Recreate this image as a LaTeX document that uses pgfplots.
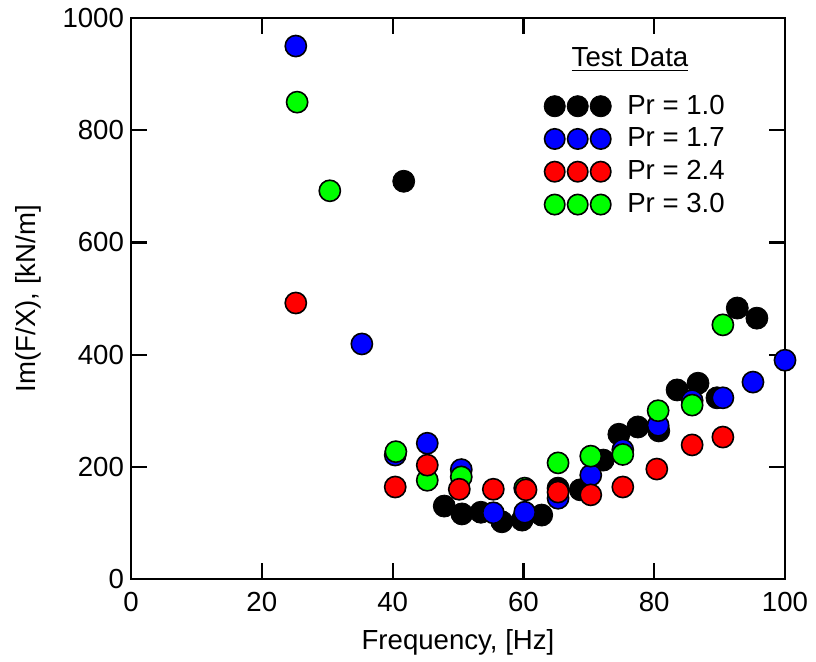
\documentclass[border=0pt]{standalone}
\usepackage{pgfplots}
\pgfplotsset{compat=1.18}
\usepackage{fontspec}
\setmainfont{Liberation Sans}

\definecolor{pblue}{RGB}{0,0,255}
\definecolor{pred}{RGB}{255,0,0}
\definecolor{pgreen}{RGB}{0,255,0}

\begin{document}
\begin{tikzpicture}
\begin{axis}[
  scale only axis,
  width=327pt, height=280.5pt,
  xmin=0, xmax=100, ymin=0, ymax=1000,
  xtick={0,20,...,100}, ytick={0,200,...,1000},
  minor tick num=0,
  axis line style={line width=1.1pt},
  every tick/.style={line width=1.1pt, black},
  major tick length=8pt,
  tick align=inside,
  /pgf/number format/assume math mode=true,
  /pgf/number format/1000 sep={},
  tick label style={font=\fontsize{13.8}{16}\selectfont},
  label style={font=\fontsize{13.8}{16}\selectfont},
  xlabel={Frequency, [Hz]},
  ylabel={Im(F/X), [kN/m]},
  xticklabel style={yshift=-3pt},
  xlabel style={yshift=-2pt},
  ylabel style={yshift=4pt},
  clip=false,
  legend cell align=left,
  legend style={draw=none, fill=none, at={(rel axis cs:0.628,0.874)}, anchor=north west,
    font=\fontsize{13.8}{16}\selectfont, row sep=1.3pt, column sep=6pt, inner sep=1pt},
  legend image code/.code={\draw[#1] plot coordinates {(0pt,0pt) (11.5pt,0pt) (23pt,0pt)};},
]
% Pr = 1.0
\addplot[only marks, mark=*, mark size=5.5pt, draw=black, fill=black, forget plot] coordinates {
(41.7,709) (47.9,130) (50.6,116) (53.5,119) (56.7,102) (59.8,105) (62.8,114)
(65.3,162) (68.7,159) (72.2,212) (74.6,258) (77.5,271) (80.7,264) (83.5,337)
(86.7,349) (89.6,323) (92.7,483) (95.7,465)
};
% Pr = 1.7
\addplot[only marks, mark=*, mark size=5.3pt, mark options={line width=0.8pt, draw=black, fill=pblue}, forget plot] coordinates {
(25.2,950) (35.3,419) (40.4,221) (45.3,242) (50.5,195) (55.4,118) (60.2,119)
(65.3,144) (70.3,185) (75.2,230) (80.6,274) (85.8,318) (90.5,323) (95.1,351) (100,390)
};
% Pr = 3.0
\addplot[only marks, mark=*, mark size=5.3pt, mark options={line width=0.8pt, draw=black, fill=pgreen}, forget plot] coordinates {
(25.4,850) (30.4,692) (40.5,227) (45.3,176) (50.5,182) (60.2,162) (65.3,207)
(70.3,219) (75.2,222) (80.6,300) (85.8,310) (90.5,453)
};
% Pr = 2.4
\addplot[only marks, mark=*, mark size=5.3pt, mark options={line width=0.8pt, draw=black, fill=pred}, forget plot] coordinates {
(25.2,492) (40.4,164) (45.3,203) (50.2,160) (55.4,160) (60.4,159) (65.3,155)
(70.3,150) (75.2,164) (80.4,196) (85.8,239) (90.5,253)
};
\addlegendimage{only marks, mark=*, mark size=5.3pt, draw=black, fill=black}
\addlegendentry{Pr = 1.0}
\addlegendimage{only marks, mark=*, mark size=5.1pt, mark options={line width=0.8pt, draw=black, fill=pblue}}
\addlegendentry{Pr = 1.7}
\addlegendimage{only marks, mark=*, mark size=5.1pt, mark options={line width=0.8pt, draw=black, fill=pred}}
\addlegendentry{Pr = 2.4}
\addlegendimage{only marks, mark=*, mark size=5.1pt, mark options={line width=0.8pt, draw=black, fill=pgreen}}
\addlegendentry{Pr = 3.0}
\node[font=\fontsize{13.8}{16}\selectfont] at (rel axis cs:0.763,0.926) {\underline{Test Data}};
\path (rel axis cs:-0.2003,-0.1408) rectangle (rel axis cs:1.0474,1.0321);
\end{axis}
\end{tikzpicture}
\end{document}
